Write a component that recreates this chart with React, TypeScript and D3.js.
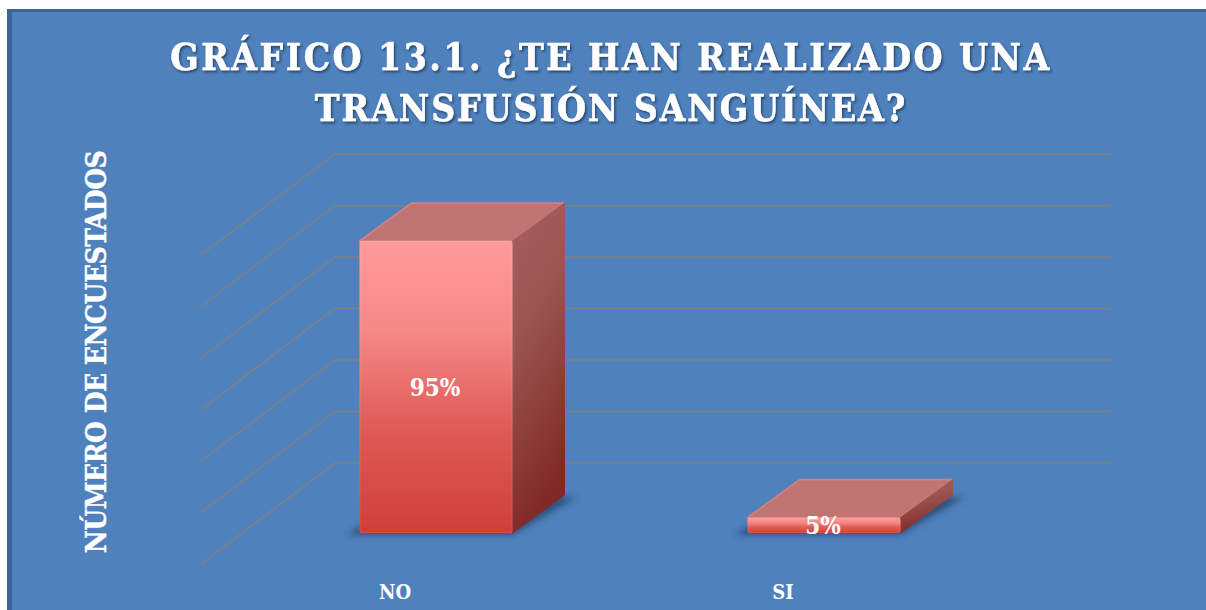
import React from "react";
import * as d3 from "d3";

const categories = ["NO", "SI"];
const percentages = [95, 5];
const gridTicks = [0, 1, 2, 3, 4, 5, 6];
const titleLines = ["GRÁFICO 13.1. ¿TE HAN REALIZADO UNA", "TRANSFUSIÓN SANGUÍNEA?"];
const yTitle = "NÚMERO DE ENCUESTADOS";

const W = 1206, H = 610;
const FONT = "'DejaVu Serif Condensed','DejaVu Serif',serif";

const xFloor = d3.scaleBand<string>().domain(categories).range([201, 977]);
const yValue = d3.scaleLinear().domain([0, 95]).range([533, 241]);
const yGrid = d3.scaleLinear().domain([0, 6]).range([564, 255]);
const wallDx = 134, wallDy = -101;
const barW = 153, barInset = 41, barDx = 52, barDy = -38;

const pts = (a: number[][]) => a.map((p) => p.join(",")).join(" ");

export default function App() {
  return (
    <svg width={W} height={H} style={{ position: "absolute", left: 0, top: 0, background: "#fff" }}>
      <defs>
        <linearGradient id="front" x1="0" y1="0" x2="0" y2="1">
          <stop offset="0" stopColor="#ff9a9a" />
          <stop offset="0.3" stopColor="#f58a88" />
          <stop offset="0.65" stopColor="#de5a56" />
          <stop offset="1" stopColor="#cf3f3a" />
        </linearGradient>
        <linearGradient id="side" x1="0" y1="0" x2="0.25" y2="1">
          <stop offset="0" stopColor="#a36161" />
          <stop offset="0.4" stopColor="#9a5652" />
          <stop offset="1" stopColor="#802926" />
        </linearGradient>
        <filter id="blur" x="-20%" y="-40%" width="140%" height="180%">
          <feGaussianBlur stdDeviation="3" />
        </filter>
        <filter id="soft" x="-5%" y="-5%" width="110%" height="110%">
          <feGaussianBlur stdDeviation="0.5" />
        </filter>
        <filter id="ts" x="-5%" y="-20%" width="110%" height="140%">
          <feDropShadow dx="1.5" dy="2" stdDeviation="1.2" floodColor="#1d3557" floodOpacity="0.75" />
        </filter>
      </defs>

      <rect x={7} y={9} width={W} height={H} fill="#3c6595" />
      <rect x={12} y={12} width={W} height={H} fill="#4f81bd" />

      {gridTicks.map((t) => {
        const y = yGrid(t);
        const x0 = xFloor.range()[0];
        const x1 = xFloor.range()[1];
        return (
          <polyline
            key={t}
            points={pts([[x0, y], [x0 + wallDx, y + wallDy], [x1 + wallDx, y + wallDy]])}
            fill="none"
            stroke="#808080"
            strokeWidth={1.5}
          />
        );
      })}

      {categories.map((c, i) => {
        const left = xFloor(c)! + xFloor.bandwidth() / 2 + barInset - barW / 2;
        const right = left + barW;
        const top = yValue(percentages[i]);
        const bot = yValue(0);
        return (
          <g key={c}>
            <polygon
              points={pts([[left - 13, bot + 2], [right, bot + 2], [right + barDx + 12, bot + barDy + 2], [left + barDx, bot + barDy]])}
              fill="#1b3557"
              opacity={0.62}
              filter="url(#blur)"
            />
            <polygon
              points={pts([[left, top], [right, top], [right + barDx, top + barDy], [left + barDx, top + barDy]])}
              fill="#c07573"
              stroke="#d08280"
              strokeWidth={1.6}
              strokeLinejoin="round"
              filter="url(#soft)"
            />
            <polygon
              points={pts([[right, top], [right + barDx, top + barDy], [right + barDx, bot + barDy], [right, bot]])}
              fill="url(#side)"
              stroke="url(#side)"
              strokeWidth={1}
              strokeLinejoin="round"
            />
            <rect x={left} y={top} width={barW} height={bot - top} rx={2} fill="url(#front)" />
            <rect x={left + 0.5} y={top + 0.5} width={barW - 1} height={bot - top - 1} rx={2} fill="none" stroke="#fff" strokeOpacity={0.1} />
            <text x={left + barW / 2 - 1} y={(top + bot) / 2 + 9} textAnchor="middle" fontFamily={FONT} fontWeight={700} fontSize={24} fill="#fff">
              {percentages[i]}%
            </text>
            <text x={xFloor(c)! + xFloor.bandwidth() / 2} y={599} textAnchor="middle" fontFamily={FONT} fontWeight={700} fontSize={20} fill="#fff">
              {c}
            </text>
          </g>
        );
      })}

      <g filter="url(#ts)" fontFamily={FONT} fontWeight={700} fontSize={37} fill="#fff" stroke="#fff" strokeWidth={0.5} textAnchor="middle">
        <text x={611} y={70} letterSpacing={2.45}>{titleLines[0]}</text>
        <text x={611} y={121} letterSpacing={1.9}>{titleLines[1]}</text>
      </g>

      <text
        transform="translate(106,352) rotate(-90)"
        textAnchor="middle"
        fontFamily={FONT}
        fontWeight={700}
        fontSize={28}
        letterSpacing={-0.55}
        fill="#fff"
        stroke="#fff"
        strokeWidth={0.4}
      >
        {yTitle}
      </text>
    </svg>
  );
}
